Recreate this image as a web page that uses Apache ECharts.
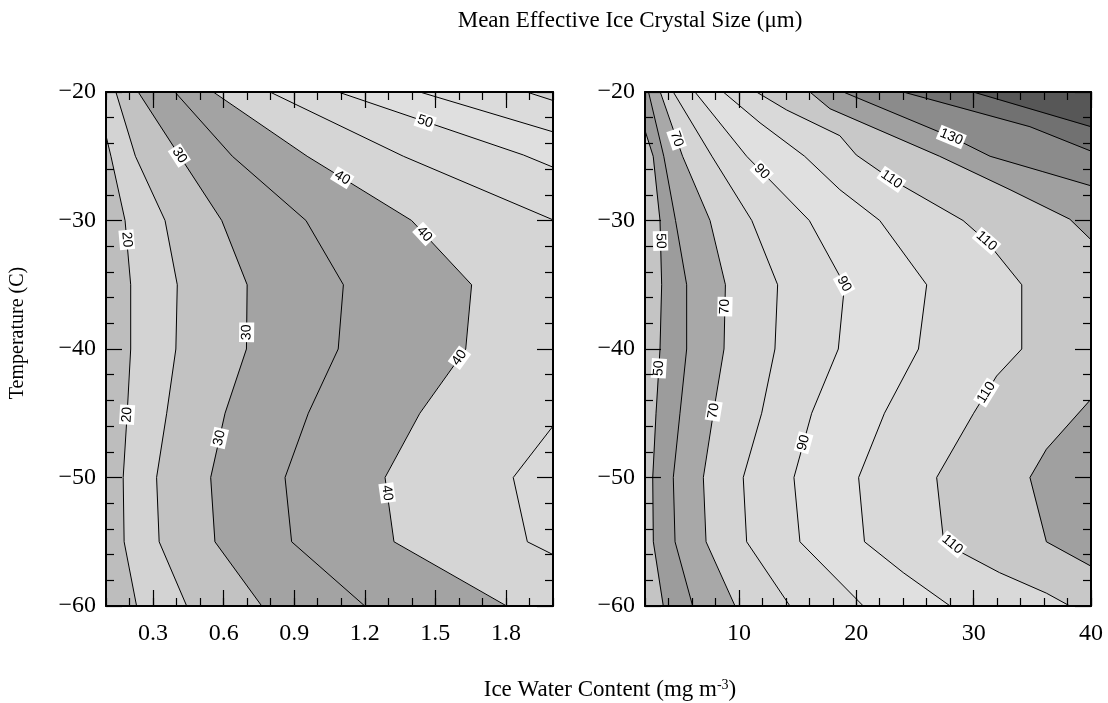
<!DOCTYPE html>
<html>
<head>
<meta charset="utf-8">
<title>Mean Effective Ice Crystal Size</title>
<script src="https://cdn.jsdelivr.net/npm/echarts@6/dist/echarts.min.js"></script>
<style>
  html, body { margin: 0; padding: 0; background: #fff; }
  #chart { width: 1108px; height: 703px; }
</style>
</head>
<body>
<div id="chart"></div>
<script>
// ---- left panel: IWC 0.1..2.0 mg m-3, contours every 5 um ----
var iwcLevels = [20, 25, 30, 35, 40, 45, 50, 55, 60];
// fill shade of each band, index 0 = below first level
var iwcShades = ['#bdbdbd', '#d3d3d3', '#c2c2c2', '#a3a3a3', '#a3a3a3', '#d5d5d5', '#d9d9d9', '#dfdfdf', '#dbdbdb', '#d2d2d2'];
// contour lines [iwc, temperature], walked with the higher side on the left
var iwc20 = [[0.1, -23.4], [0.121, -25], [0.181, -30], [0.205, -35], [0.205, -40], [0.19, -45], [0.173, -50], [0.177, -55], [0.23, -60]];
var iwc25 = [[0.142, -20], [0.225, -25], [0.351, -30], [0.403, -35], [0.397, -40], [0.358, -45], [0.315, -50], [0.326, -55], [0.443, -60]];
var iwc30 = [[0.237, -20], [0.414, -25], [0.592, -30], [0.70, -35], [0.697, -40], [0.606, -45], [0.545, -50], [0.563, -55], [0.762, -60]];
var iwc35 = [[0.393, -20], [0.637, -25], [0.95, -30], [1.109, -35], [1.087, -40], [0.96, -45], [0.861, -50], [0.889, -55], [1.2, -60]];
var iwc40 = [[0.556, -20], [0.955, -25], [1.399, -30], [1.654, -35], [1.629, -40], [1.434, -45], [1.286, -50], [1.324, -55], [1.803, -60]];
var iwc45a = [[0.797, -20], [1.364, -25], [2.0, -29.95]];
var iwc45b = [[2.0, -46], [1.831, -50], [1.891, -55], [2.0, -56]];
var iwc50 = [[1.087, -20], [1.874, -24.9], [2.0, -25.85]];
var iwc55 = [[1.434, -20], [2.0, -23.1]];
var iwc60 = [[1.888, -20], [2.0, -20.66]];
var iwcLines = [[20, iwc20], [25, iwc25], [30, iwc30], [35, iwc35], [40, iwc40], [45, iwc45a], [45, iwc45b], [50, iwc50], [55, iwc55], [60, iwc60]];
// contour labels [iwc, temperature, level]
var iwcLabels = [[0.188, -31.5, 20], [0.181, -45.1, 20], [0.407, -25, 30], [0.69, -38.7, 30], [0.577, -46.9, 30],
  [1.10, -26.8, 40], [1.456, -31, 40], [1.604, -40.7, 40], [1.293, -51.2, 40], [1.449, -22.7, 50]];

// ---- right panel: IWC 2..40 mg m-3, contours every 10 um ----
var sizeLevels = [50, 60, 70, 80, 90, 100, 110, 120, 130, 140, 150];
var sizeShades = ['#c4c4c4', '#9c9c9c', '#a8a8a8', '#d4d4d4', '#d9d9d9', '#e0e0e0', '#d9d9d9', '#c8c8c8', '#a0a0a0', '#8b8b8b', '#717171', '#575757'];
var size50 = [[2, -23], [2.7, -25], [3.28, -30], [3.42, -35], [3.28, -40], [2.94, -45], [2.66, -50], [2.71, -55], [3.56, -60]];
var size60 = [[2.3, -20], [3.6, -25], [4.6, -30], [5.55, -35], [5.55, -40], [4.98, -45], [4.41, -50], [4.56, -55], [6.06, -60]];
var size70 = [[3.3, -20], [5.2, -25], [7.54, -30], [8.85, -35], [8.73, -40], [7.82, -45], [6.97, -50], [7.2, -55], [9.67, -60]];
var size80 = [[4.41, -20], [7.7, -25], [11.1, -30], [13.3, -35], [13.07, -40], [11.94, -45], [10.37, -50], [10.66, -55], [14.35, -60]];
var size90 = [[6.26, -20], [10.66, -25], [16.0, -30], [19.0, -35], [18.47, -40], [16.2, -45], [14.69, -50], [15.2, -55], [20.6, -60]];
var size100 = [[8.67, -20], [11.8, -22.4], [15.6, -25], [18.6, -27.6], [22.0, -30], [26.0, -35], [25.3, -40], [22.4, -45], [20.2, -50], [20.7, -55], [24.0, -57.4], [28.0, -60]];
var size110 = [[11.5, -20], [14.07, -21.4], [18.6, -23.4], [20.0, -24.9], [23.0, -26.8], [29.1, -30], [31.1, -31.6], [34.1, -35], [34.1, -40],
  [31.96, -42.1], [30.0, -45], [26.85, -50], [27.4, -54.6], [29.1, -55.9], [32.2, -57.4], [36.2, -59], [38.2, -60]];
var size120a = [[16.05, -20], [17.76, -21.3], [27.1, -25], [33.1, -27.6], [38.2, -29.9], [40, -31.5]];
var size120b = [[40, -43.9], [36.2, -47.8], [34.8, -50], [36.2, -55], [40, -56.9]];
var size130 = [[18.9, -20], [28.1, -23.5], [31.4, -25], [35.9, -26.2], [40, -27.3]];
var size140 = [[24.0, -20], [34.8, -22.7], [40, -24.6]];
var size150 = [[29.96, -20], [40, -22.7]];
var sizeLines = [[50, size50], [60, size60], [70, size70], [80, size80], [90, size90], [100, size100], [110, size110],
  [120, size120a], [120, size120b], [130, size130], [140, size140], [150, size150]];
var sizeLabels = [[3.0, -31.6, 50], [3.1, -41.5, 50], [4.56, -23.7, 70], [8.8, -36.7, 70], [7.7, -44.8, 70],
  [11.94, -26.2, 90], [19.04, -34.9, 90], [15.54, -47.3, 90],
  [23.0, -26.8, 110], [31.1, -31.6, 110], [31.1, -43.4, 110], [28.1, -55.3, 110], [28.1, -23.5, 130]];

// ---- axes ----
var iwcMajorTicks = [0.3, 0.6, 0.9, 1.2, 1.5, 1.8];
var iwcMinorTicks = [0.1, 0.2, 0.3, 0.4, 0.5, 0.6, 0.7, 0.8, 0.9, 1.0, 1.1, 1.2, 1.3, 1.4, 1.5, 1.6, 1.7, 1.8, 1.9, 2.0];
var sizeMajorTicks = [10, 20, 30, 40];
var sizeMinorTicks = [2, 4, 6, 8, 10, 12, 14, 16, 18, 20, 22, 24, 26, 28, 30, 32, 34, 36, 38, 40];

var iwcBox = { xmin: 0.1, xmax: 2.0, tmin: -60, tmax: -20 };
var sizeBox = { xmin: 2, xmax: 40, tmin: -60, tmax: -20 };

var serif = '"Liberation Serif", "Times New Roman", serif';

// position of a boundary point on the frame, counter-clockwise from bottom-left
function perim(p, b) {
  var e = 1e-6;
  if (Math.abs(p[1] - b.tmin) < e) return (p[0] - b.xmin) / (b.xmax - b.xmin);
  if (Math.abs(p[0] - b.xmax) < e) return 1 + (p[1] - b.tmin) / (b.tmax - b.tmin);
  if (Math.abs(p[1] - b.tmax) < e) return 2 + (b.xmax - p[0]) / (b.xmax - b.xmin);
  return 3 + (b.tmax - p[1]) / (b.tmax - b.tmin);
}

// region on the high side of a contour: the line, then the frame back to its start
function closeRegion(pts, b) {
  var corners = [[b.xmin, b.tmin], [b.xmax, b.tmin], [b.xmax, b.tmax], [b.xmin, b.tmax]];
  var out = pts.slice();
  var s0 = perim(pts[pts.length - 1], b), s1 = perim(pts[0], b);
  if (s1 <= s0) s1 += 4;
  for (var k = Math.floor(s0) + 1; k < s1; k++) out.push(corners[k % 4]);
  return out;
}

function buildRegions(lines, levels, shades, b) {
  var out = [{ pts: [[b.xmin, b.tmin], [b.xmax, b.tmin], [b.xmax, b.tmax], [b.xmin, b.tmax]], fill: shades[0] }];
  levels.forEach(function (lv, k) {
    lines.forEach(function (ln) {
      if (ln[0] === lv) out.push({ pts: closeRegion(ln[1], b), fill: shades[k + 1] });
    });
  });
  return out;
}

function fillSeries(regions, xi, yi) {
  return {
    type: 'custom', xAxisIndex: xi, yAxisIndex: yi, z: 1, silent: true, clip: true,
    data: regions.map(function (r) { return r.pts[0]; }),
    renderItem: function (params, api) {
      var r = regions[params.dataIndex];
      return {
        type: 'polygon',
        shape: { points: r.pts.map(function (p) { return api.coord(p); }) },
        style: { fill: r.fill, stroke: r.fill, lineWidth: 0.6 }
      };
    }
  };
}

function lineSeries(lines, xi, yi) {
  return lines.map(function (ln) {
    return {
      type: 'line', xAxisIndex: xi, yAxisIndex: yi, z: 3, silent: true,
      data: ln[1], symbol: 'none', showSymbol: false,
      lineStyle: { color: '#000', width: 1 }
    };
  });
}

function labelSeries(labels, lines, xi, yi) {
  return {
    type: 'custom', xAxisIndex: xi, yAxisIndex: yi, z: 5, silent: true,
    data: labels.map(function (l) { return [l[0], l[1]]; }),
    renderItem: function (params, api) {
      var lb = labels[params.dataIndex];
      var p = api.coord([lb[0], lb[1]]);
      var best = null;
      lines.forEach(function (ln) {
        if (ln[0] !== lb[2]) return;
        for (var i = 0; i < ln[1].length - 1; i++) {
          var a = api.coord(ln[1][i]), c = api.coord(ln[1][i + 1]);
          var dx = c[0] - a[0], dy = c[1] - a[1];
          var t = ((p[0] - a[0]) * dx + (p[1] - a[1]) * dy) / (dx * dx + dy * dy);
          t = Math.max(0, Math.min(1, t));
          var q = [a[0] + t * dx, a[1] + t * dy];
          var d = (q[0] - p[0]) * (q[0] - p[0]) + (q[1] - p[1]) * (q[1] - p[1]);
          if (!best || d < best.d) best = { d: d, q: q, ang: Math.atan2(-dy, dx) };
        }
      });
      var ang = best.ang;
      if (ang > Math.PI / 2) ang -= Math.PI;
      if (ang <= -Math.PI / 2) ang += Math.PI;
      return {
        type: 'text', x: best.q[0], y: best.q[1], rotation: ang,
        style: {
          text: String(lb[2]), fill: '#000', align: 'center', verticalAlign: 'middle',
          font: '14px "Liberation Sans", Arial, sans-serif',
          backgroundColor: '#fff', padding: [1, 2, 0, 2]
        }
      };
    }
  };
}

function xAxes(grid, b, major, minor, fmt) {
  var base = { type: 'value', gridIndex: grid, z: 10, min: b.xmin, max: b.xmax, splitLine: { show: false } };
  var line = { show: true, onZero: false, lineStyle: { color: '#000', width: 2 } };
  var mk = function (pos, ticks, len, withLine, withLabel) {
    return Object.assign({}, base, {
      position: pos,
      axisLine: withLine ? line : { show: false },
      axisTick: { show: true, inside: true, length: len, customValues: ticks, lineStyle: { color: '#000', width: 1.2 } },
      axisLabel: withLabel ? { show: true, customValues: major, formatter: fmt, color: '#000', fontFamily: serif, fontSize: 24, margin: 16 } : { show: false }
    });
  };
  return [mk('bottom', major, 16, true, true), mk('bottom', minor, 8, false, false), mk('top', major, 16, true, false), mk('top', minor, 8, false, false)];
}

function yAxes(grid, b, withLabel) {
  var mk = function (pos, label) {
    return {
      type: 'value', gridIndex: grid, z: 10, position: pos, min: b.tmin, max: b.tmax, interval: 10,
      splitLine: { show: false },
      axisLine: { show: true, onZero: false, lineStyle: { color: '#000', width: 2 } },
      axisTick: { show: true, inside: true, length: 16, lineStyle: { color: '#000', width: 1.2 } },
      minorTick: { show: true, splitNumber: 5, length: 8, lineStyle: { color: '#000', width: 1.2 } },
      axisLabel: label ? {
        show: true, color: '#000', fontFamily: serif, fontSize: 24, margin: 10,
        formatter: function (v) { return v < 0 ? '\u2212' + (-v) : String(v); }
      } : { show: false }
    };
  };
  return [mk('left', withLabel), mk('right', false)];
}

var iwcRegions = buildRegions(iwcLines, iwcLevels, iwcShades, iwcBox);
var sizeRegions = buildRegions(sizeLines, sizeLevels, sizeShades, sizeBox);

var chart = echarts.init(document.getElementById('chart'));
chart.setOption({
  animation: false,
  backgroundColor: '#fff',
  grid: [
    { left: 106, top: 92, width: 447, height: 514, outerBoundsMode: 'none' },
    { left: 645, top: 92, width: 446, height: 514, outerBoundsMode: 'none' }
  ],
  xAxis: xAxes(0, iwcBox, iwcMajorTicks, iwcMinorTicks, function (v) { return v.toFixed(1); })
    .concat(xAxes(1, sizeBox, sizeMajorTicks, sizeMinorTicks, function (v) { return String(v); })),
  yAxis: yAxes(0, iwcBox, true).concat(yAxes(1, sizeBox, true)),
  graphic: [
    { type: 'text', x: 630, y: 21, style: { text: 'Mean Effective Ice Crystal Size (\u03bcm)', font: '23px ' + serif, fill: '#000', align: 'center', verticalAlign: 'middle' } },
    { type: 'text', x: 610, y: 690, style: {
        text: '{a|Ice Water Content (mg m}{s|-3}{a|)}', align: 'center', verticalAlign: 'middle',
        rich: { a: { font: '23px ' + serif, fill: '#000' }, s: { font: '14px ' + serif, fill: '#000', verticalAlign: 'top', padding: [0, 0, 10, 0] } } } },
    { type: 'text', x: 18, y: 333, rotation: Math.PI / 2, style: { text: 'Temperature (C)', font: '20px ' + serif, fill: '#000', align: 'center', verticalAlign: 'middle' } }
  ],
  series: [fillSeries(iwcRegions, 0, 0), fillSeries(sizeRegions, 4, 2)]
    .concat(lineSeries(iwcLines, 0, 0), lineSeries(sizeLines, 4, 2))
    .concat([labelSeries(iwcLabels, iwcLines, 0, 0), labelSeries(sizeLabels, sizeLines, 4, 2)])
});
</script>
</body>
</html>
